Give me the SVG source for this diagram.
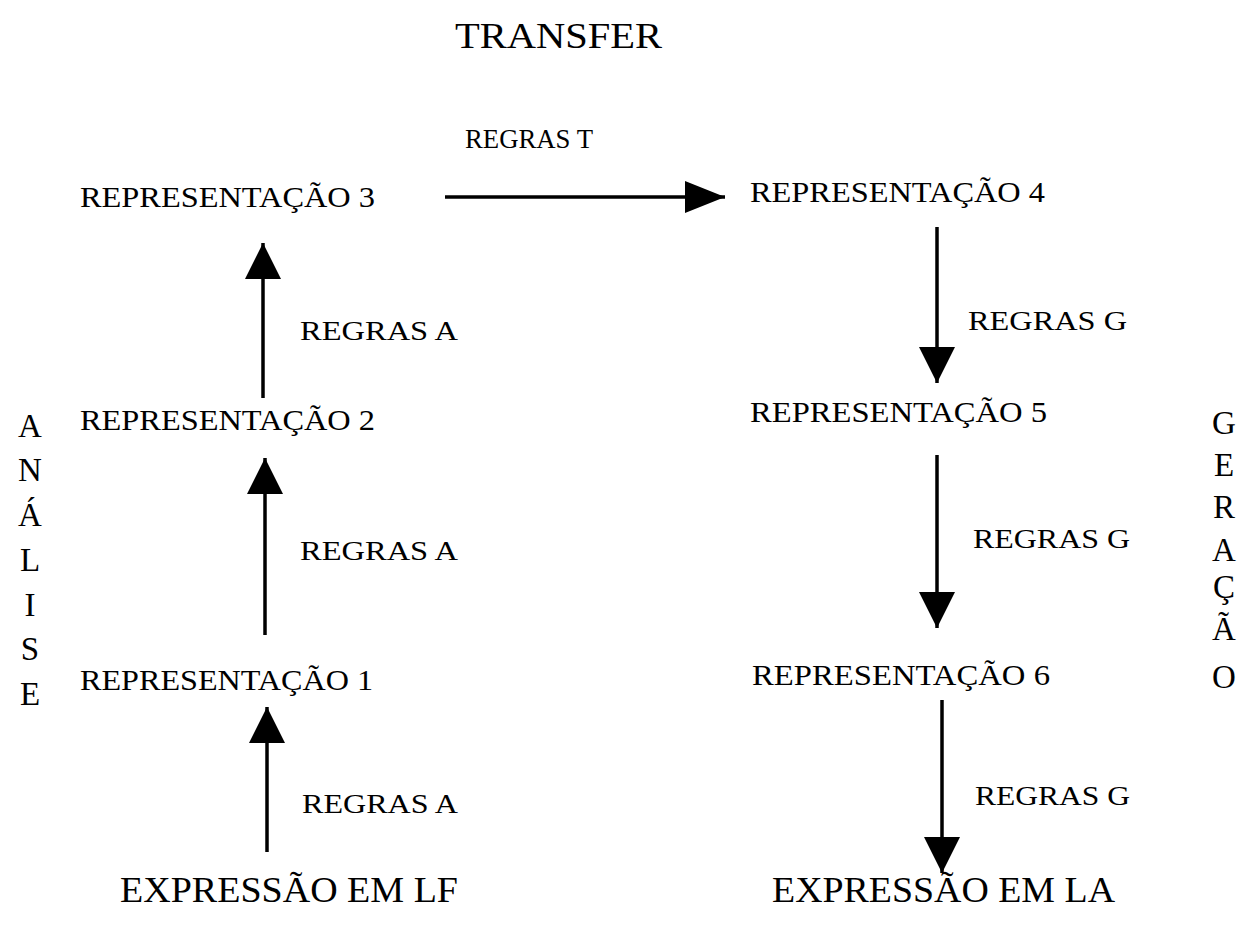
<svg xmlns="http://www.w3.org/2000/svg" width="1245" height="926" viewBox="0 0 1245 926">
<style>
text{font-family:"Liberation Serif","Times New Roman",serif;fill:#000}
.rep{font-size:29px}
.rg{font-size:27px}
.big{font-size:36px}
.vert{font-size:33px;text-anchor:middle}
.conn line{stroke:#000;stroke-width:3.5}
</style>
<defs>
<marker id="head" viewBox="0 0 36 36" refX="36" refY="18" markerWidth="36" markerHeight="36" markerUnits="userSpaceOnUse" orient="auto">
<path d="M0,0 L36,18 L0,36 Z" fill="#000"/>
</marker>
<marker id="headH" viewBox="0 0 40 32" refX="40" refY="16" markerWidth="40" markerHeight="32" markerUnits="userSpaceOnUse" orient="auto">
<path d="M0,0 L40,16 L0,32 Z" fill="#000"/>
</marker>
</defs>
<rect width="1245" height="926" fill="#fff"/>
<g id="title"><text class="big" x="455" y="48" textLength="207" lengthAdjust="spacingAndGlyphs">TRANSFER</text></g>
<g id="rep3"><text class="rep" x="80" y="207" textLength="295" lengthAdjust="spacingAndGlyphs">REPRESENTAÇÃO 3</text></g>
<g id="rep4"><text class="rep" x="750" y="202" textLength="295" lengthAdjust="spacingAndGlyphs">REPRESENTAÇÃO 4</text></g>
<g id="rep2"><text class="rep" x="80" y="430" textLength="295" lengthAdjust="spacingAndGlyphs">REPRESENTAÇÃO 2</text></g>
<g id="rep5"><text class="rep" x="750" y="422" textLength="297" lengthAdjust="spacingAndGlyphs">REPRESENTAÇÃO 5</text></g>
<g id="rep1"><text class="rep" x="80" y="690" textLength="293" lengthAdjust="spacingAndGlyphs">REPRESENTAÇÃO 1</text></g>
<g id="rep6"><text class="rep" x="752" y="685" textLength="298" lengthAdjust="spacingAndGlyphs">REPRESENTAÇÃO 6</text></g>
<g id="exprLF"><text class="big" x="120" y="902" textLength="338" lengthAdjust="spacingAndGlyphs">EXPRESSÃO EM LF</text></g>
<g id="exprLA"><text class="big" x="772" y="902" textLength="343" lengthAdjust="spacingAndGlyphs">EXPRESSÃO EM LA</text></g>
<g id="analise">
<text class="vert" x="30" y="437">A</text>
<text class="vert" x="30" y="481">N</text>
<text class="vert" x="30" y="526">Á</text>
<text class="vert" x="30" y="571">L</text>
<text class="vert" x="30" y="616">I</text>
<text class="vert" x="30" y="660">S</text>
<text class="vert" x="30" y="705">E</text>
</g>
<g id="geracao">
<text class="vert" x="1224" y="434">G</text>
<text class="vert" x="1224" y="476">E</text>
<text class="vert" x="1224" y="518">R</text>
<text class="vert" x="1224" y="561">A</text>
<text class="vert" x="1224" y="598">Ç</text>
<text class="vert" x="1224" y="640">Ã</text>
<text class="vert" x="1224" y="688">O</text>
</g>
<g id="connectors" class="conn">
<line x1="445" y1="197" x2="725" y2="197" marker-end="url(#headH)"/>
<line x1="263" y1="398" x2="263" y2="243" marker-end="url(#head)"/>
<line x1="265" y1="635" x2="265" y2="458" marker-end="url(#head)"/>
<line x1="267" y1="852" x2="267" y2="707" marker-end="url(#head)"/>
<line x1="937" y1="227" x2="937" y2="383" marker-end="url(#head)"/>
<line x1="937" y1="455" x2="937" y2="628" marker-end="url(#head)"/>
<line x1="942" y1="700" x2="942" y2="873" marker-end="url(#head)"/>
</g>
<g id="labels">
<text class="rg" x="465" y="148" textLength="128" lengthAdjust="spacingAndGlyphs">REGRAS T</text>
<text class="rg" x="300" y="340" textLength="158" lengthAdjust="spacingAndGlyphs">REGRAS A</text>
<text class="rg" x="300" y="560" textLength="158" lengthAdjust="spacingAndGlyphs">REGRAS A</text>
<text class="rg" x="302" y="813" textLength="156" lengthAdjust="spacingAndGlyphs">REGRAS A</text>
<text class="rg" x="968" y="330" textLength="159" lengthAdjust="spacingAndGlyphs">REGRAS G</text>
<text class="rg" x="973" y="548" textLength="157" lengthAdjust="spacingAndGlyphs">REGRAS G</text>
<text class="rg" x="975" y="805" textLength="155" lengthAdjust="spacingAndGlyphs">REGRAS G</text>
</g>
</svg>
